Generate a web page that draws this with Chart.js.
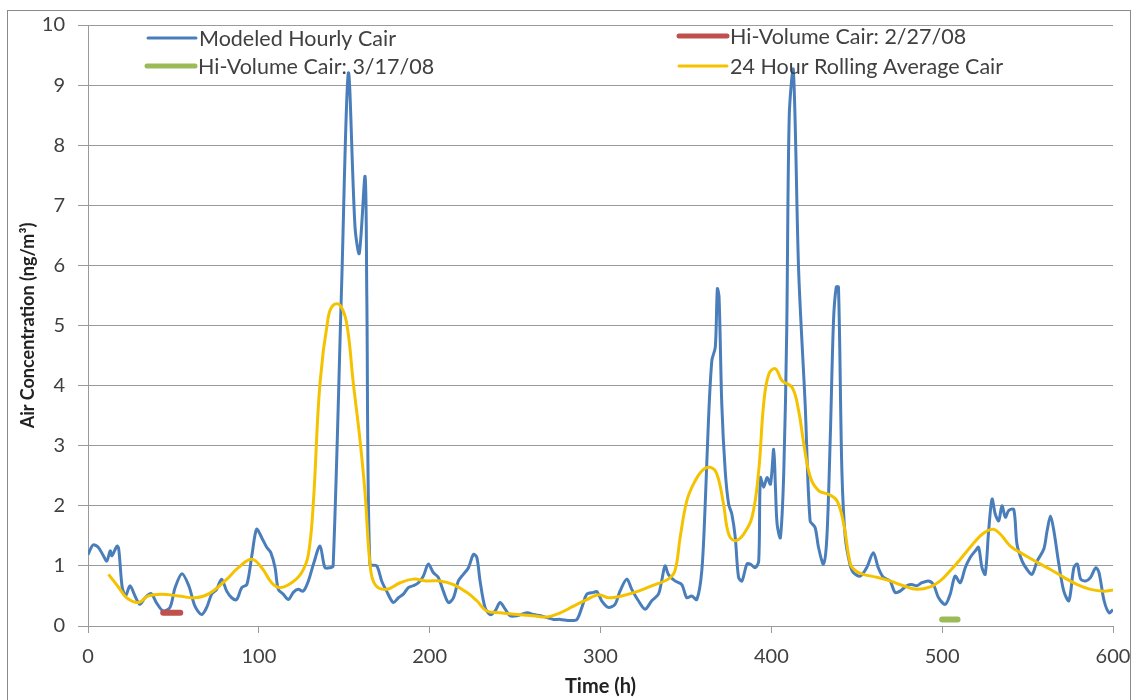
<!DOCTYPE html>
<html>
<head>
<meta charset="utf-8">
<title>Modeled Hourly Cair</title>
<script src="https://cdn.jsdelivr.net/npm/chart.js@4.4.1/dist/chart.umd.min.js"></script>
<style>
    html, body { margin: 0; padding: 0; background: #ffffff; }
    #wrap { position: relative; width: 1135px; height: 700px; }
</style>
</head>
<body>
<div id="wrap"><canvas id="cairChart" width="1135" height="700"></canvas></div>
<script>
// Modeled hourly air concentration (ng/m3)
const hourlyTimes = [
    0, 3, 6, 9, 11, 13, 14, 17, 18, 20, 22, 24.6, 27.5, 30.4, 33.4, 37, 40, 44, 48, 51,
    55, 59, 62.6, 66.5, 69.5, 72.4, 75.3, 78.2, 81.2, 84.1, 87, 90, 93, 96, 98.7, 101.7,
    104.6, 107, 109.5, 111.4, 114.3, 117.3, 120.2, 123, 126, 129, 132, 135.8, 138.7, 141.7,
    143.5, 148.5, 152.4, 156.3, 158.8, 162.2, 163.2, 165, 169, 171.9, 174.8, 178.7, 181.7,
    184.6, 187.5, 190.4, 193.4, 196.3, 199.2, 202.1, 205, 208, 211, 213.9, 216.8, 219.7,
    222.7, 225.6, 227.6, 229.5, 232.4, 235.4, 238.3, 241.2, 244.2, 247, 251, 257, 261, 265,
    268.6, 272.5, 276.4, 282.3, 286.2, 289.1, 292, 296, 298, 300.7, 304.6, 308.5, 311.4,
    315.4, 318.3, 322.2, 326.1, 330, 333.9, 335.8, 337.8, 339.7, 343.6, 347.6, 350.5, 353.4,
    356.4, 359.3, 361.3, 363.2, 365.2, 367.2, 368.4, 369.4, 371, 373, 375, 376.9, 378.9,
    380.8, 382.8, 385.7, 387.7, 390.6, 392.6, 393.6, 395.5, 397.5, 399.5, 401.4, 402.4,
    403.4, 405.3, 407.3, 409, 410.5, 412.9, 416, 419.8, 422.7, 425.6, 427.6,
    430.5, 432.5, 434.5, 436.4, 438, 439.3, 441.3, 443.3, 446, 448, 452, 455.8, 459.7,
    462.6, 465.6, 469.5, 472.4, 475.4, 479.3, 482.2, 485.2, 488.1, 492, 494.9, 497.9,
    501.8, 504.7, 507.6, 510.6, 513.5, 516.4, 519.4, 521.3, 523.3, 525.2, 527.2, 529.2,
    531.1, 533.1, 535, 537, 538.9, 541.9, 543.8, 546.8, 549.7, 552.6, 555.6, 559.5, 561.4,
    563.4, 565.4, 568.3, 571.2, 574.2, 577.1, 579.1, 581.1, 584, 586.9, 589.9, 591.8,
    594.8, 597.7, 600
];
const hourlyValues = [
    1.19, 1.35, 1.31, 1.17, 1.08, 1.25, 1.17, 1.33, 1.28, 0.65, 0.5, 0.67, 0.5, 0.36, 0.47, 0.54, 0.39, 0.25, 0.31, 0.64,
    0.87, 0.67, 0.33, 0.19, 0.31, 0.53, 0.61, 0.78, 0.58, 0.47, 0.44, 0.64, 0.69, 1.19, 1.61, 1.47,
    1.31, 1.22, 0.97, 0.61, 0.53, 0.44, 0.56, 0.61, 0.58, 0.75, 1.03, 1.33, 0.97, 0.97,
    1.0, 5.7, 9.2, 6.64, 6.2, 7.48, 5.5, 1.03, 1.0, 0.75, 0.58, 0.39, 0.47,
    0.53, 0.64, 0.67, 0.72, 0.83, 1.03, 0.89, 0.81, 0.58, 0.39, 0.47, 0.75, 0.86,
    0.97, 1.19, 1.14, 0.75, 0.31, 0.19, 0.25, 0.39, 0.28, 0.17, 0.17, 0.22, 0.19, 0.17,
    0.14, 0.11, 0.11, 0.09, 0.11, 0.31, 0.53, 0.56, 0.57, 0.42, 0.31, 0.36, 0.58,
    0.78, 0.61, 0.42, 0.28, 0.42, 0.53, 0.75, 1.0, 0.86, 0.75, 0.69, 0.47, 0.5,
    0.44, 0.92, 2.03, 3.42, 4.42, 4.64, 5.61, 5.47, 3.69, 2.58, 2.03, 1.86, 1.47,
    0.81, 0.75, 1.03, 1.03, 0.97, 1.08, 2.47, 2.31, 2.47, 2.36, 2.94, 2.31,
    1.69, 1.47, 2.58, 4.9, 8.5, 9.25, 5.9, 3.69, 1.75, 1.64, 1.31,
    1.03, 1.47, 3.14, 5.08, 5.64, 5.64, 2.58, 1.47, 1.03, 0.89, 0.83, 0.97, 1.22,
    0.97, 0.81, 0.75, 0.56, 0.58, 0.67, 0.69, 0.67, 0.72, 0.75, 0.69, 0.47,
    0.36, 0.53, 0.83, 0.72, 0.97, 1.14, 1.25, 1.31, 0.97, 0.86, 1.58, 2.11,
    1.86, 1.75, 2.0, 1.81, 1.92, 1.94, 1.36, 1.08, 0.94, 0.86, 1.08, 1.28, 1.58,
    1.83, 1.58, 1.03, 0.58, 0.42, 0.97, 1.03, 0.78, 0.75, 0.81, 0.97, 0.89,
    0.42, 0.22, 0.27
];

// 24 hour rolling average
const avgTimes = [
    12, 18, 22.6, 29.5, 35.3, 43, 53, 62.6, 70.4, 80.2, 88, 95.8, 101.7, 107.5, 112.4,
    119.2, 125.1, 129, 131.9, 135.8, 140.7, 143.6, 147.5, 151.4, 155.3, 159.2, 162.2,
    165.1, 168, 174.8, 182.7, 190.4, 198.3, 206.1, 213.9, 221.7, 227.6, 233.4, 241.2,
    251, 260.8, 268.6, 276.4, 284.2, 292, 298.9, 304.6, 312.4, 322.2, 331.9, 339.7,
    343.6, 346.6, 350.5, 354.4, 359.3, 364.2, 368.1, 372, 375, 378.9, 383.8, 388.7,
    392.6, 395.5, 398.5, 402.4, 406.3, 412.2, 416, 419, 422.9, 427.8, 433.6, 438.5,
    442.4, 446.3, 449.3, 453.9, 461.7, 469.5, 477.3, 485.2, 493, 498.8, 504.7, 510.6,
    516.4, 522.3, 526.2, 530.1, 534, 539.9, 547.7, 555.6, 563.4, 571.2, 579.1, 586.9,
    594.8, 600
];
const avgValues = [
    0.86, 0.64, 0.47, 0.39, 0.5, 0.53, 0.5, 0.47, 0.53, 0.75, 0.97, 1.11, 0.97, 0.72, 0.64,
    0.72, 0.89, 1.19, 2.05, 4.04, 5.15, 5.34, 5.34, 5.04, 4.04, 3.1, 2.2,
    1.03, 0.69, 0.61, 0.72, 0.78, 0.75, 0.75, 0.69, 0.56, 0.42, 0.25, 0.22,
    0.19, 0.17, 0.15, 0.22, 0.33, 0.44, 0.52, 0.47, 0.5, 0.58, 0.69, 0.78,
    0.92, 1.47, 2.08, 2.36, 2.58, 2.64, 2.53, 2.03, 1.53, 1.42, 1.53, 1.81,
    2.58, 3.69, 4.19, 4.28, 4.08, 3.97, 3.58, 3.03, 2.47, 2.25, 2.19, 2.08,
    1.69, 1.03, 0.92, 0.86, 0.81, 0.75, 0.67, 0.61, 0.65, 0.75, 0.92, 1.11,
    1.31, 1.5, 1.58, 1.61, 1.53, 1.33, 1.19, 1.06, 0.94, 0.81, 0.69, 0.61,
    0.58, 0.6
];

// Hi-Volume samples
const hiVolFebTimes = [44, 54];
const hiVolFebValues = [0.22, 0.22];
const hiVolMarTimes = [500, 509];
const hiVolMarValues = [0.11, 0.11];

const xTicks = [0, 100, 200, 300, 400, 500, 600];

const FONT = 'Lato, "Open Sans", sans-serif';
const TEXT_COLOR = '#404040';
const GRID_COLOR = '#9a9a9a';

function toPoints(xs, ys) {
    return xs.map((x, i) => ({ x: x, y: ys[i] }));
}

// outer frame like the Excel chart area
const framePlugin = {
    id: 'frame',
    beforeDraw(chart) {
        const ctx = chart.ctx;
        ctx.save();
        ctx.fillStyle = '#ffffff';
        ctx.fillRect(0, 0, chart.width, chart.height);
        ctx.strokeStyle = '#8a8a8a';
        ctx.lineWidth = 1;
        ctx.strokeRect(7.5, 10.5, 1123, 720);
        ctx.restore();
    }
};

// two column legend drawn inside the plot top
const legendPlugin = {
    id: 'twoColLegend',
    afterDraw(chart, args, opts) {
        const ctx = chart.ctx;
        ctx.save();
        ctx.font = '21.5px ' + FONT;
        ctx.textBaseline = 'middle';
        ctx.fillStyle = TEXT_COLOR;
        opts.items.forEach(item => {
            const ds = chart.data.datasets[item.index];
            ctx.strokeStyle = ds.borderColor;
            ctx.lineWidth = item.width;
            ctx.lineCap = 'round';
            ctx.beginPath();
            ctx.moveTo(item.x, item.y);
            ctx.lineTo(item.x + 48, item.y);
            ctx.stroke();
            ctx.fillText(ds.label, item.x + 51, item.y + 1);
        });
        ctx.restore();
    }
};

const ctx = document.getElementById('cairChart');

new Chart(ctx, {
    type: 'scatter',
    data: {
        datasets: [
            {
                label: 'Modeled Hourly Cair',
                data: toPoints(hourlyTimes, hourlyValues),
                borderColor: '#4a7ebb',
                borderWidth: 3,
                showLine: true,
                tension: 0.3,
                pointRadius: 0,
                order: 3
            },
            {
                label: 'Hi-Volume Cair: 2/27/08',
                data: toPoints(hiVolFebTimes, hiVolFebValues),
                borderColor: '#c0504d',
                borderWidth: 6,
                borderCapStyle: 'round',
                showLine: true,
                pointRadius: 0,
                order: 1
            },
            {
                label: 'Hi-Volume Cair: 3/17/08',
                data: toPoints(hiVolMarTimes, hiVolMarValues),
                borderColor: '#9bbb59',
                borderWidth: 6,
                borderCapStyle: 'round',
                showLine: true,
                pointRadius: 0,
                order: 2
            },
            {
                label: '24 Hour Rolling Average Cair',
                data: toPoints(avgTimes, avgValues),
                borderColor: '#f5c200',
                borderWidth: 3,
                showLine: true,
                tension: 0.4,
                pointRadius: 0,
                order: 0
            }
        ]
    },
    options: {
        responsive: false,
        animation: false,
        layout: { padding: { left: 0, right: 22, top: 25, bottom: 0 } },
        plugins: {
            legend: { display: false },
            tooltip: { enabled: false },
            twoColLegend: {
                items: [
                    { index: 0, x: 148, y: 38, width: 3 },
                    { index: 1, x: 679, y: 36, width: 5 },
                    { index: 2, x: 147, y: 66, width: 5 },
                    { index: 3, x: 679, y: 66, width: 3 }
                ]
            }
        },
        scales: {
            x: {
                type: 'linear',
                min: 0,
                max: 600,
                afterBuildTicks: scale => {
                    scale.ticks = xTicks.map(v => ({ value: v }));
                },
                afterFit: scale => {
                    scale.height = 74;
                    scale.paddingLeft = 0;
                    scale.paddingRight = 0;
                },
                grid: {
                    drawOnChartArea: false,
                    drawTicks: true,
                    tickLength: 7,
                    color: GRID_COLOR
                },
                border: { display: true, color: GRID_COLOR },
                ticks: {
                    color: TEXT_COLOR,
                    padding: 12,
                    maxRotation: 0,
                    font: { size: 20, family: FONT }
                },
                title: {
                    display: true,
                    text: 'Time (h)',
                    color: '#222222',
                    padding: { top: 0, bottom: 1 },
                    font: { size: 20, weight: 'bold', family: FONT }
                }
            },
            y: {
                min: 0,
                max: 10,
                afterFit: scale => { scale.width = 88; },
                grid: {
                    color: GRID_COLOR,
                    tickLength: 10
                },
                border: { display: true, color: GRID_COLOR },
                ticks: {
                    stepSize: 1,
                    color: TEXT_COLOR,
                    padding: 13,
                    font: { size: 20, family: FONT }
                },
                title: {
                    display: true,
                    text: 'Air Concentration (ng/m³)',
                    color: '#222222',
                    padding: { top: 17, bottom: 0 },
                    font: { size: 18, weight: 'bold', family: FONT }
                }
            }
        }
    },
    plugins: [framePlugin, legendPlugin]
});
</script>
</body>
</html>
